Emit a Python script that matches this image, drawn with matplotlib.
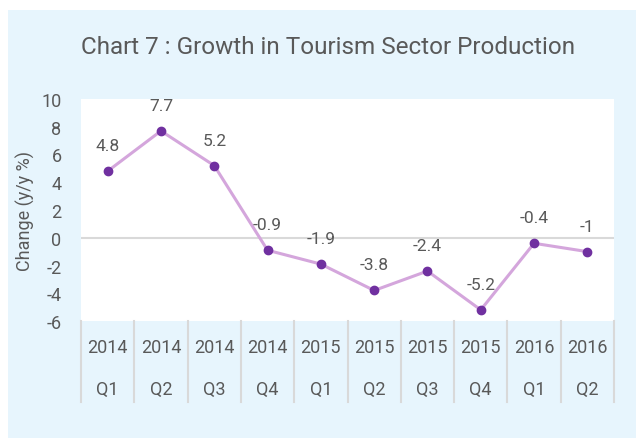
import numpy as np
import matplotlib.pyplot as plt
import matplotlib.transforms as mtransforms
from matplotlib.patches import Rectangle

# data
years = ['2014', '2014', '2014', '2014', '2015', '2015', '2015', '2015', '2016', '2016']
quarters = ['Q1', 'Q2', 'Q3', 'Q4', 'Q1', 'Q2', 'Q3', 'Q4', 'Q1', 'Q2']
growth = [4.8, 7.7, 5.2, -0.9, -1.9, -3.8, -2.4, -5.2, -0.4, -1]
growthText = ['4.8', '7.7', '5.2', '-0.9', '-1.9', '-3.8', '-2.4', '-5.2', '-0.4', '-1']

textColor = '#595959'
plt.rcParams['font.family'] = ['Roboto', 'DejaVu Sans']
plt.rcParams['axes.unicode_minus'] = False

fig = plt.figure(figsize=(6.36, 4.39), dpi=100)
fig.patch.set_facecolor('white')
fig.patches.append(Rectangle((8 / 636, 0), 1, 1 - 11 / 439, transform=fig.transFigure,
                             facecolor='#E7F5FD', edgecolor='none', zorder=-5))

ax = fig.add_axes([81 / 636, 1 - 322 / 439, 533 / 636, 222 / 439])
ax.set_zorder(2)
ax.set_facecolor('white')
xPos = np.arange(len(growth))
ax.axhline(0, color='#D9D9D9', linewidth=1.5, zorder=1)
ax.plot(xPos, growth, color='#D4A6DC', linewidth=2.2, zorder=2)
ax.plot(xPos, growth, 'o', color='#7030A0', markersize=6, zorder=3)
for i in range(len(growth)):
    ax.annotate(growthText[i], (xPos[i], growth[i]), xytext=(0, 13), textcoords='offset points',
                ha='center', va='bottom', fontsize=12.5, color=textColor)

ax.set_xlim(-0.5, len(growth) - 0.5)
ax.set_ylim(-6, 10)
ax.set_yticks(np.arange(-6, 11, 2))
ax.set_xticks([])
ax.tick_params(axis='y', length=0, pad=14, labelsize=13, labelcolor=textColor)
for spine in ax.spines.values():
    spine.set_visible(False)

# two level category axis
trans = mtransforms.blended_transform_factory(ax.transData, ax.transAxes)
for k in range(len(growth) + 1):
    ax.plot([k - 0.5, k - 0.5], [0, -81 / 222], color='#D9D9D9', linewidth=1.5,
            transform=trans, clip_on=False)
for i in range(len(growth)):
    ax.text(xPos[i], -26 / 222, years[i], transform=trans, ha='center', va='center',
            fontsize=13, color=textColor)
    ax.text(xPos[i], -68 / 222, quarters[i], transform=trans, ha='center', va='center',
            fontsize=13, color=textColor)

fig.text(25 / 636, 1 - 211 / 439, 'Change (y/y %)', rotation=90, ha='center', va='center',
         fontsize=13, color=textColor)
fig.text(328 / 636, 1 - 48 / 439, 'Chart 7 : Growth in Tourism Sector Production',
         ha='center', va='center', fontsize=17.5, color=textColor)

fig.savefig('out.png', dpi=100)
